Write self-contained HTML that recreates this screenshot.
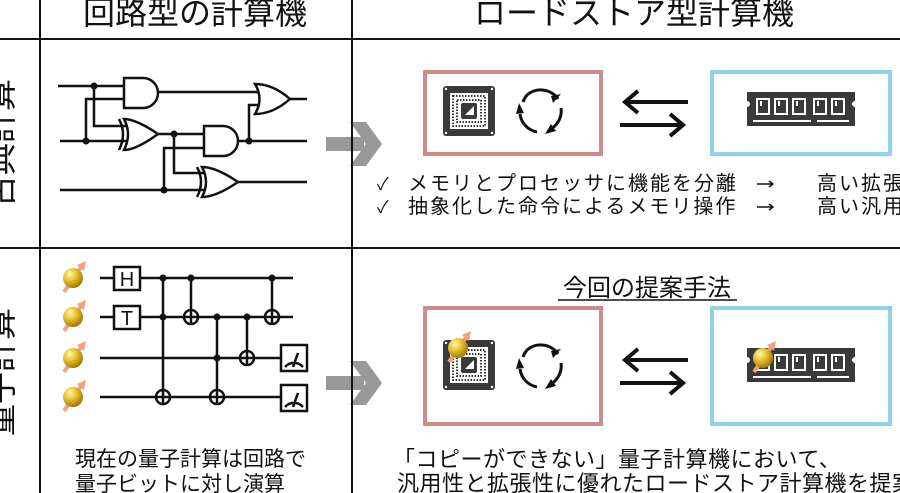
<!DOCTYPE html>
<html><head><meta charset="utf-8"><style>
html,body{margin:0;padding:0;background:#fff;}
svg{display:block;font-family:"Liberation Sans","Noto Sans CJK JP",sans-serif;}
</style></head><body>
<svg width="900" height="493" viewBox="0 0 900 493" xmlns="http://www.w3.org/2000/svg">
<defs>
<radialGradient id="gold" cx="0.35" cy="0.3" r="0.75">
<stop offset="0" stop-color="#fff6b0"/><stop offset="0.45" stop-color="#e8c02a"/><stop offset="1" stop-color="#9a7208"/>
</radialGradient>
<g id="qb">
<line x1="-9" y1="14" x2="9" y2="-12" stroke="#f3a080" stroke-width="4"/>
<polygon points="13,-17 4,-13 11,-7" fill="#f3a080"/>
<circle cx="0" cy="0" r="10" fill="url(#gold)"/>
</g>
<g id="cpu">
<rect x="0" y="0" width="52" height="50" rx="3" fill="#3a3a3a"/>
<rect x="7" y="7" width="38" height="36" fill="#fff"/>
<g fill="#3a3a3a">
<rect x="10" y="10" width="32" height="30" fill="none" stroke="#3a3a3a" stroke-width="2" stroke-dasharray="1.5 1.5"/>
<rect x="14" y="14" width="24" height="22" fill="none" stroke="#3a3a3a" stroke-width="2" stroke-dasharray="1.5 1.5"/>
<rect x="18" y="17" width="16" height="16" rx="2"/>
</g>
<polygon points="22,29 31,20 31,29" fill="#fff"/>
<circle cx="3" cy="3" r="1.2" fill="#fff"/><circle cx="49" cy="3" r="1.2" fill="#fff"/><circle cx="3" cy="47" r="1.2" fill="#fff"/><circle cx="49" cy="47" r="1.2" fill="#fff"/>
</g>
<g id="cyc" fill="none" stroke="#111" stroke-width="3">
<path d="M-14,-16 A21,21 0 0 1 17,-12"/>
<path d="M20,-3 A21,21 0 0 1 8,19"/>
<path d="M-4,21 A21,21 0 0 1 -21,3"/>
<path d="M-18,-9 A21,21 0 0 1 -14,-16"/>
</g>
<g id="cycarrows" fill="#111">
<polygon points="20,-17 12,-8 10,-15"/>
<polygon points="4,23 10,13 15,20"/>
<polygon points="-22,-8 -25,3 -17,2"/>
</g>
<g id="ram">
<path d="M0,0 H108 V9 a3,3 0 0 0 0,6 V34 H0 V15 a3,3 0 0 0 0,-6 Z" fill="#3a3a3a"/>
<g fill="#fff">
<rect x="9" y="6" width="14" height="17"/><rect x="27" y="6" width="14" height="17"/><rect x="45" y="6" width="14" height="17"/><rect x="66" y="6" width="14" height="17"/><rect x="84" y="6" width="14" height="17"/>
<rect x="6" y="28" width="58" height="2" /><rect x="70" y="28" width="32" height="2"/>
</g>
<g fill="#3a3a3a"><rect x="11" y="8" width="10" height="13"/><rect x="29" y="8" width="10" height="13"/><rect x="47" y="8" width="10" height="13"/><rect x="68" y="8" width="10" height="13"/><rect x="86" y="8" width="10" height="13"/></g>
<g fill="#fff"><rect x="13" y="9" width="2" height="5"/><rect x="31" y="9" width="2" height="5"/><rect x="49" y="9" width="2" height="5"/><rect x="70" y="9" width="2" height="5"/><rect x="88" y="9" width="2" height="5"/></g>
</g>
<g id="dblarrow" stroke="#111" stroke-width="4" fill="none">
<line x1="624" y1="0" x2="688" y2="0"/><polyline points="638,-11 625,0 638,11"/>
<line x1="620" y1="23" x2="684" y2="23"/><polyline points="670,12 683,23 670,34"/>
</g>
<g id="gray" fill="#999">
<rect x="0" y="-7" width="38" height="14"/>
<polygon points="24,-22 40,-22 56,0 40,22 24,22 40,0"/>
</g>
</defs>

<g stroke="#111" stroke-width="2">
<line x1="40" y1="0" x2="40" y2="493"/>
<line x1="352" y1="0" x2="352" y2="493"/>
<line x1="0" y1="39" x2="900" y2="39"/>
<line x1="0" y1="248" x2="900" y2="248"/>
</g>

<text x="195" y="24" font-size="32" text-anchor="middle" fill="#111">回路型の計算機</text>
<text x="634" y="24" font-size="32" text-anchor="middle" fill="#111">ロードストア型計算機</text>

<text transform="translate(12,143) rotate(-90)" font-size="32" text-anchor="middle" fill="#111">古典計算</text>
<text transform="translate(12,372) rotate(-90)" font-size="32" text-anchor="middle" fill="#111">量子計算</text>

<g stroke="#111" stroke-width="2.5" fill="none">
<line x1="58" y1="86" x2="124" y2="86"/>
<polyline points="86,141 86,99 124,99"/>
<polyline points="94,86 94,126 126,126"/>
<line x1="60" y1="141" x2="126" y2="141"/>
<path d="M124,78 H143 A15,15 0 0 1 143,108 H124 Z"/>
<line x1="158" y1="92" x2="258" y2="92"/>
<path d="M124,119 Q136,119 158,134 Q136,150 124,150 Q132,134 124,119 Z"/>
<path d="M119,119 Q127,134 119,150"/>
<line x1="158" y1="134" x2="204" y2="134"/>
<path d="M204,126 H223 A15,15 0 0 1 223,156 H204 Z"/>
<polyline points="174,134 174,173 204,173"/>
<line x1="60" y1="190" x2="204" y2="190"/>
<polyline points="164,190 164,148 204,148"/>
<path d="M202,167 Q216,167 238,182 Q216,197 202,197 Q210,182 202,167 Z"/>
<path d="M197,167 Q205,182 197,197"/>
<line x1="238" y1="182" x2="307" y2="182"/>
<line x1="238" y1="141" x2="307" y2="141"/>
<polyline points="249,141 249,105 260,105"/>
<path d="M255,84 Q273,84 290,99 Q273,114 255,114 Q264,99 255,84 Z"/>
<line x1="290" y1="99" x2="307" y2="99"/>
</g>
<g fill="#111">
<circle cx="94" cy="86" r="3.5"/><circle cx="86" cy="141" r="3.5"/><circle cx="174" cy="134" r="3.5"/><circle cx="249" cy="141" r="3.5"/><circle cx="164" cy="190" r="3.5"/>
</g>

<g stroke="#111" stroke-width="2.5" fill="none">
<line x1="100" y1="278" x2="293" y2="278"/>
<line x1="100" y1="317" x2="293" y2="317"/>
<line x1="100" y1="358" x2="282" y2="358"/>
<line x1="100" y1="397" x2="282" y2="397"/>
<line x1="163" y1="278" x2="163" y2="404"/>
<line x1="191" y1="278" x2="191" y2="324"/>
<line x1="217" y1="317" x2="217" y2="404"/>
<line x1="247" y1="317" x2="247" y2="365"/>
<line x1="272" y1="278" x2="272" y2="324"/>
<circle cx="163" cy="397" r="7" fill="#fff"/><line x1="156" y1="397" x2="170" y2="397"/><line x1="163" y1="390" x2="163" y2="404"/>
<circle cx="191" cy="317" r="7" fill="#fff"/><line x1="184" y1="317" x2="198" y2="317"/><line x1="191" y1="310" x2="191" y2="324"/>
<circle cx="217" cy="397" r="7" fill="#fff"/><line x1="210" y1="397" x2="224" y2="397"/><line x1="217" y1="390" x2="217" y2="404"/>
<circle cx="247" cy="358" r="7" fill="#fff"/><line x1="240" y1="358" x2="254" y2="358"/><line x1="247" y1="351" x2="247" y2="365"/>
<circle cx="272" cy="317" r="7" fill="#fff"/><line x1="265" y1="317" x2="279" y2="317"/><line x1="272" y1="310" x2="272" y2="324"/>
<rect x="114" y="267" width="26" height="23" fill="#fff"/>
<rect x="114" y="306" width="26" height="23" fill="#fff"/>
<rect x="281" y="345" width="26" height="26" fill="#fff"/>
<rect x="281" y="385" width="26" height="26" fill="#fff"/>
<path d="M285,367 A12,12 0 0 1 303,367"/><line x1="293" y1="367" x2="298" y2="353"/>
<path d="M285,407 A12,12 0 0 1 303,407"/><line x1="293" y1="407" x2="298" y2="393"/>
</g>
<text x="127" y="286" font-size="20" text-anchor="middle" fill="#111">H</text>
<text x="127" y="325" font-size="20" text-anchor="middle" fill="#111">T</text>
<g fill="#111">
<circle cx="163" cy="278" r="3.5"/><circle cx="163" cy="317" r="3.5"/><circle cx="191" cy="278" r="3.5"/>
<circle cx="217" cy="317" r="3.5"/><circle cx="217" cy="358" r="3.5"/><circle cx="247" cy="317" r="3.5"/><circle cx="272" cy="278" r="3.5"/>
</g>
<use href="#qb" x="73" y="278"/><use href="#qb" x="73" y="317"/><use href="#qb" x="73" y="358"/><use href="#qb" x="73" y="397"/>
<text x="75" y="466" font-size="21" fill="#111">現在の量子計算は回路で</text>
<text x="75" y="491" font-size="21" fill="#111">量子ビットに対し演算</text>

<use href="#gray" x="326" y="144"/>
<use href="#gray" x="326" y="383"/>
<line x1="352" y1="100" x2="352" y2="190" stroke="#111" stroke-width="2"/>
<line x1="352" y1="340" x2="352" y2="430" stroke="#111" stroke-width="2"/>

<rect x="425" y="72" width="176" height="82" fill="#fff" stroke="#d08a8a" stroke-width="4"/>
<rect x="712" y="72" width="178" height="82" fill="#fff" stroke="#8ed4e6" stroke-width="4"/>
<use href="#cpu" x="443" y="86"/>
<g transform="translate(541,111)"><use href="#cyc"/><use href="#cycarrows"/></g>
<use href="#ram" x="747" y="92"/>
<use href="#dblarrow" y="102"/>

<g font-size="20" fill="#111" letter-spacing="2">
<text x="377" y="190" font-size="17" letter-spacing="0">✓</text>
<text x="408" y="190">メモリとプロセッサに機能を分離</text>
<text x="817" y="190">高い拡張性</text>
<text x="377" y="213" font-size="17" letter-spacing="0">✓</text>
<text x="408" y="213">抽象化した命令によるメモリ操作</text>
<text x="817" y="213">高い汎用性</text>
</g>
<g stroke="#111" stroke-width="1.5" fill="none">
<line x1="757" y1="184" x2="773" y2="184"/><polyline points="769,181 773,184 769,187"/>
<line x1="757" y1="207" x2="773" y2="207"/><polyline points="769,204 773,207 769,210"/>
</g>

<text x="647" y="296" font-size="24" text-anchor="middle" fill="#111">今回の提案手法</text>
<line x1="558" y1="300" x2="737" y2="300" stroke="#111" stroke-width="1.5"/>

<rect x="425" y="308" width="176" height="116" fill="#fff" stroke="#d08a8a" stroke-width="4"/>
<rect x="712" y="308" width="178" height="116" fill="#fff" stroke="#8ed4e6" stroke-width="4"/>
<use href="#cpu" x="443" y="340"/>
<use href="#qb" x="458" y="348"/>
<g transform="translate(541,366)"><use href="#cyc"/><use href="#cycarrows"/></g>
<use href="#ram" x="747" y="348"/>
<use href="#qb" x="763" y="358"/>
<use href="#dblarrow" y="360"/>

<text x="393" y="467" font-size="22" letter-spacing="0.5" fill="#111">「コピーができない」量子計算機において、</text>
<text x="397" y="491" font-size="22" letter-spacing="0.5" fill="#111">汎用性と拡張性に優れたロードストア計算機を提案</text>
</svg>
</body></html>
